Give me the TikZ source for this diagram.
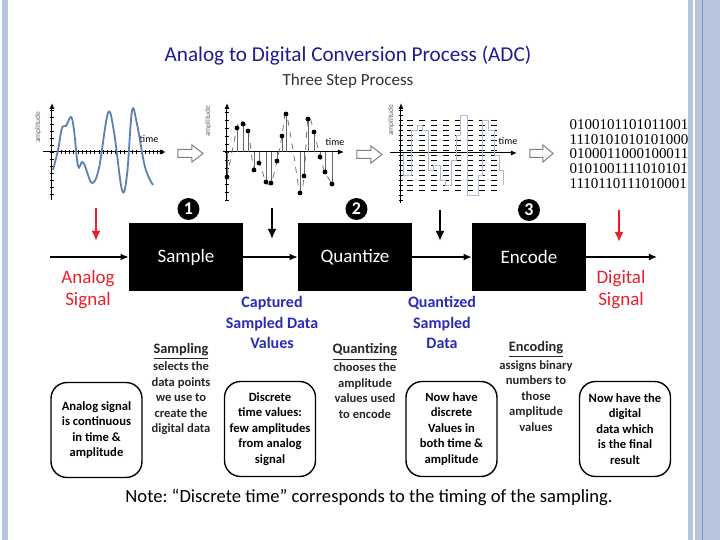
\documentclass[tikz,border=0pt]{standalone}
\usepackage{fontspec}
\setmainfont{Carlito}
\newfontfamily\bitsfont{Liberation Serif}
\usetikzlibrary{arrows.meta,positioning}
\frenchspacing
\definecolor{tnavy}{HTML}{1C1C94}
\definecolor{lblue}{HTML}{2B2BB5}
\definecolor{sred}{HTML}{E8202A}
\definecolor{wave}{HTML}{5D80B3}
\definecolor{stair}{HTML}{A9BCD6}
\definecolor{band}{HTML}{B8C6DD}
\definecolor{banddk}{HTML}{7E97C2}

\tikzset{
  procbox/.style={fill=black, text=white, minimum width=57pt, minimum height=34pt,
    font=\fontsize{9.5}{11}\selectfont},
  notebox/.style={draw, line width=0.7pt, rounded corners=8pt, minimum width=45.5pt,
    minimum height=47.5pt, align=center, inner sep=1pt,
    font=\fontsize{6.3}{7.75}\selectfont\bfseries},
  desc/.style={align=center, text=black!85, font=\fontsize{6.3}{7.75}\selectfont\bfseries},
  sig/.style={align=center, text=sred, font=\fontsize{9.5}{11}\selectfont},
  dat/.style={align=center, text=lblue, font=\fontsize{8}{10.25}\selectfont\bfseries},
  flow/.style={-{Latex[length=4pt,width=3.5pt]}, line width=0.7pt},
  drop/.style={-{Latex[length=5pt,width=4.5pt]}, line width=1pt},
  stepno/.style={circle, fill=black, text=white, inner sep=0pt, minimum size=11pt,
    font=\fontsize{9}{9}\selectfont\bfseries},
  axis/.style={-{Latex[length=3pt,width=2.5pt]}, line width=0.5pt},
  tick/.style={line width=0.35pt},
  hollow/.style={draw=black!50, fill=white, line width=0.5pt},
  ampl/.style={rotate=90, text=black!60, font=\fontsize{3.8}{4}\selectfont},
  tlabel/.style={font=\fontsize{5}{6}\selectfont},
}

\begin{document}
\begin{tikzpicture}[x=0.5pt,y=-0.5pt]
\useasboundingbox (0,0) rectangle (720,540);
% slide bands
\fill[band] (2,0) rectangle (8,540);
\fill[band] (688,0) rectangle (693,540);
\fill[band] (695,0) rectangle (720,540);
\draw[banddk,line width=0.5pt] (702.5,0) -- (702.5,540);

% heading
\node[font=\fontsize{10.6}{13}\selectfont, text=tnavy] (title) at (348,56)
  {Analog to Digital Conversion Process (ADC)};
\node[font=\fontsize{8.5}{10}\selectfont, text=black!80] (sub) at (348,81)
  {Three Step Process};

% graph 1: analog wave
\draw[axis] (52,200) -- (52,103);
\draw[axis] (43,152) -- (166,152);
\foreach \y in {110,117,...,196} \draw[tick] (50,\y) -- (54,\y);
\foreach \x in {57,61.2,...,162} \draw[tick] (\x,150) -- (\x,154);
\node[ampl] (amp1) at (38,127) {amplitude};
\node[tlabel] (time1) at (149,139) {time};
\draw[wave,line width=0.9pt] plot[smooth,tension=0.6] coordinates
  {(53,170) (58,150) (62,128) (66,126) (71,117) (74,130) (78,166) (82,162)
   (85,166) (92,183) (99,168) (108,113) (114,132) (122,190) (127,175)
   (132,111) (137,124) (145,167) (153,185)};

\draw[hollow] (178,149.5) -- (192,149.5) -- (192,145) -- (203,153.5)
  -- (192,162) -- (192,157.5) -- (178,157.5) -- cycle;

% graph 2: samples
\draw[axis] (227,200) -- (227,103);
\draw[axis] (223,152) -- (344,152);
\foreach \y in {112,120,...,200} \draw[tick] (225,\y) -- (229,\y);
\node[ampl] (amp2) at (208,121) {amplitude};
\node[tlabel] (time2) at (335,142) {time};
\draw[black!55,dashed,line width=0.4pt] plot[smooth,tension=0.6] coordinates
  {(227,177) (237,128) (241,121) (248,131) (254,170) (259,163) (266,182)
   (271,183) (277,161) (282,136) (286,114) (293,150) (300,193) (304,176)
   (308,119) (314,132) (320,157) (325,172) (332,184)};
\foreach \x/\y in {227/177,237/128,243/124,248/131,254/170,259/163,266/182,
    271/183,277/161,282/136,286/114,300/193,304/176,308/119,314/132,320/157,
    325/172,332/184}{
  \draw[black!60,line width=0.4pt] (\x,152) -- (\x,\y);
  \fill (\x,\y) circle (1.2pt);
}

\draw[hollow] (357,150.5) -- (371,150.5) -- (371,146) -- (382,154.5)
  -- (371,163) -- (371,158.5) -- (357,158.5) -- cycle;

% graph 3: quantized levels
\draw[axis] (401,203) -- (401,103);
\draw[axis] (390,153) -- (517,153);
\foreach \y in {110,115,...,200} \draw[tick] (399,\y) -- (403,\y);
\foreach \y in {120,125,...,190} \draw[dashed,line width=0.4pt] (407,\y) -- (502,\y);
\node[ampl] (amp3) at (391,120) {amplitude};
\node[tlabel] (time3) at (508,141) {time};
\draw[stair,line width=0.45pt] (403,153) -- (403,175) -- (411,175) -- (411,130)
  -- (417,130) -- (417,125) -- (422,125) -- (422,130) -- (428,130) -- (428,170)
  -- (433,170) -- (433,165) -- (440,165) -- (440,180) -- (445,180) -- (445,185)
  -- (451,185) -- (451,160) -- (456,160) -- (456,135) -- (460,135) -- (460,115)
  -- (467,115) -- (467,195) -- (478,195) -- (478,175) -- (482,175) -- (482,120)
  -- (488,120) -- (488,130) -- (494,130) -- (494,155) -- (499,155) -- (499,170)
  -- (503,170) -- (503,185);

\draw[hollow] (530,149.5) -- (543,149.5) -- (543,145) -- (553,153.5)
  -- (543,162) -- (543,157.5) -- (530,157.5) -- cycle;

\node[font=\bitsfont\fontsize{7.5}{7.4}\selectfont, align=left] (bits) at (629,154)
  {0100101101011001\\1110101010101000\\0100011000100011\\0101001111010101\\1110110111010001};

% step numbers
\node[stepno] (n1) at (188.5,209) {1};
\node[stepno] (n2) at (356.5,209) {2};
\node[stepno] (n3) at (529,210) {3};

% process chain
\node[procbox] (sample) at (186,257) {Sample};
\node[procbox] (quant) at (355,257) {Quantize};
\node[procbox] (enc) at (529,257) {Encode};
\coordinate (src) at (50,257);
\coordinate (sink) at (657,257);
\draw[flow] (src) -- (sample);
\draw[flow] (sample) -- (quant);
\draw[flow] (quant) -- (enc);
\draw[flow] (enc) -- (sink);

% drop arrows
\coordinate (d1) at (96,208);   \coordinate (d1e) at (96,241);
\coordinate (d2) at (272,208);  \coordinate (d2e) at (272,239);
\coordinate (d3) at (440,210);  \coordinate (d3e) at (440,241);
\coordinate (d4) at (619,210);  \coordinate (d4e) at (619,242);
\draw[drop,sred] (d1) -- (d1e);
\draw[drop] (d2) -- (d2e);
\draw[drop] (d3) -- (d3e);
\draw[drop,sred] (d4) -- (d4e);

% labels under the chain
\node[sig] (analog) at (88,289.5) {Analog\\Signal};
\node[dat] (captured) at (272,322.5) {Captured\\Sampled Data\\Values};
\node[dat] (quantized) at (442,322.5) {Quantized\\Sampled\\Data};
\node[sig] (digital) at (621,290) {Digital\\Signal};

% what each step does
\node[desc] (dsamp) at (181,389)
  {{\fontsize{7.2}{7.75}\selectfont\underline{Sampling}}\\[1.2pt]selects the\\data points\\we use to\\create the\\digital data};
\node[desc] (dquant) at (365,381)
  {{\fontsize{7.2}{7.75}\selectfont\underline{Quantizing}}\\[1.2pt]chooses the\\amplitude\\values used\\to encode};
\node[desc] (denc) at (536,386.5)
  {{\fontsize{7.2}{7.75}\selectfont\underline{Encoding}}\\[1.2pt]assigns binary\\numbers to\\those\\amplitude\\values};

% state boxes
\node[notebox] (s1) at (96.5,430) {Analog signal\\is continuous\\in time \&\\amplitude};
\node[notebox] (s2) at (270,429) {Discrete\\time values:\\few amplitudes\\from analog\\signal};
\node[notebox] (s3) at (451.5,429) {Now have\\discrete\\Values in\\both time \&\\amplitude};
\node[notebox] (s4) at (625,429) {Now have the\\digital\\data which\\is the final\\result};

\node[font=\fontsize{9.3}{11}\selectfont] (note) at (369,497)
  {Note: “Discrete time” corresponds to the timing of the sampling.};
\end{tikzpicture}
\end{document}
